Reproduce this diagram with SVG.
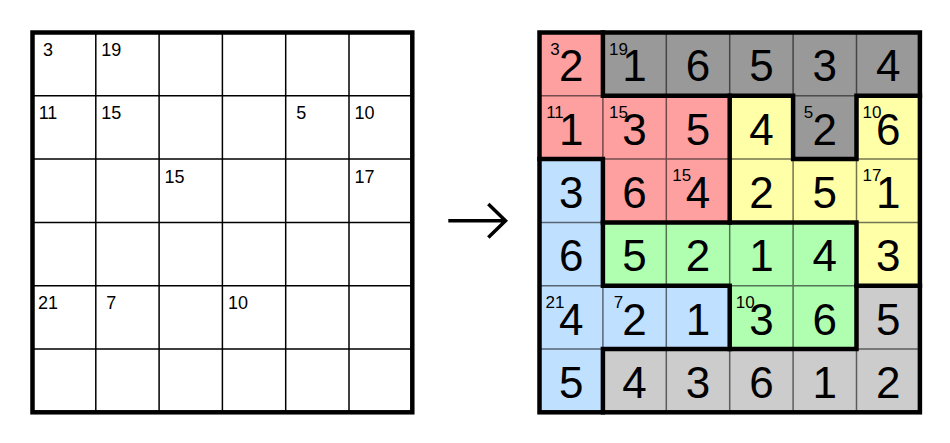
<svg xmlns="http://www.w3.org/2000/svg" width="950" height="443" viewBox="0 0 950 443">
<style>
.bg{fill:#fff}
.thinL{stroke:#000;stroke-width:1.5;fill:none}
.thinR{stroke:#000;stroke-opacity:0.55;stroke-width:1.5;fill:none}
.thick{stroke:#000;stroke-width:4.5;fill:none;stroke-linecap:square;stroke-linejoin:miter}
.clueL{font-family:"Liberation Sans",Arial,sans-serif;font-size:18px;text-anchor:middle;fill:#000}
.clueR{font-family:"Liberation Sans",Arial,sans-serif;font-size:17px;text-anchor:middle;fill:#000}
.big{font-family:"Liberation Sans",Arial,sans-serif;font-size:44px;text-anchor:middle;fill:#000}
.r{fill:#ffa0a0}.dg{fill:#999999}.y{fill:#ffffa8}.b{fill:#c0e0ff}.g{fill:#b0ffb0}.lg{fill:#cccccc}
</style>
<rect width="950" height="443" fill="#fff"/>
<g id="puzzle">
<rect x="32.5" y="32.5" width="379.8" height="379.8" class="bg"/>
<path class="thinL" d="M95.8,32.5V412.3M159.1,32.5V412.3M222.4,32.5V412.3M285.7,32.5V412.3M349,32.5V412.3M32.5,95.8H412.3M32.5,159.1H412.3M32.5,222.4H412.3M32.5,285.7H412.3M32.5,349H412.3"/>
<rect x="32.5" y="32.5" width="379.8" height="379.8" class="thick"/>
<g class="clueL">
<text x="48" y="56">3</text>
<text x="111.3" y="56">19</text>
<text x="48" y="119.3">11</text>
<text x="111.3" y="119.3">15</text>
<text x="301.2" y="119.3">5</text>
<text x="364.5" y="119.3">10</text>
<text x="174.6" y="182.6">15</text>
<text x="364.5" y="182.6">17</text>
<text x="48" y="309.2">21</text>
<text x="111.3" y="309.2">7</text>
<text x="237.9" y="309.2">10</text>
</g>
</g>
<g id="arrow">
<path d="M448.3,220.7H504M488.3,204L505.5,220.7L488.3,237.4" stroke="#000" stroke-width="3.5" fill="none"/>
</g>
<g id="solution">
<g id="fills">
<rect class="r" x="539.5" y="32.5" width="63.4" height="63.3"/>
<rect class="dg" x="602.9" y="32.5" width="317" height="63.3"/>
<rect class="r" x="539.5" y="95.8" width="190.2" height="63.3"/>
<rect class="y" x="729.7" y="95.8" width="63.4" height="63.3"/>
<rect class="dg" x="793.1" y="95.8" width="63.4" height="63.3"/>
<rect class="y" x="856.5" y="95.8" width="63.4" height="63.3"/>
<rect class="b" x="539.5" y="159.1" width="63.4" height="253.2"/>
<rect class="r" x="602.9" y="159.1" width="126.8" height="63.3"/>
<rect class="y" x="729.7" y="159.1" width="190.2" height="63.3"/>
<rect class="g" x="602.9" y="222.4" width="253.6" height="63.3"/>
<rect class="y" x="856.5" y="222.4" width="63.4" height="63.3"/>
<rect class="b" x="602.9" y="285.7" width="126.8" height="63.3"/>
<rect class="g" x="729.7" y="285.7" width="126.8" height="63.3"/>
<rect class="lg" x="856.5" y="285.7" width="63.4" height="63.3"/>
<rect class="lg" x="602.9" y="349" width="317" height="63.3"/>
</g>
<path class="thinR" d="M602.9,32.5V412.3M666.3,32.5V412.3M729.7,32.5V412.3M793.1,32.5V412.3M856.5,32.5V412.3M539.5,95.8H919.9M539.5,159.1H919.9M539.5,222.4H919.9M539.5,285.7H919.9M539.5,349H919.9"/>
<g id="regions" class="thick">
<path d="M602.9,32.5V95.8H793.1V159.1H856.5V95.8H919.9"/>
<path d="M729.7,95.8V222.4"/>
<path d="M602.9,412.3V349H856.5V222.4H602.9"/>
<path d="M539.5,159.1H602.9V285.7H729.7V349"/>
<path d="M856.5,285.7H919.9"/>
<rect x="539.5" y="32.5" width="380.4" height="379.8"/>
</g>
<g class="clueR">
<text x="555" y="54.8">3</text>
<text x="618.4" y="54.8">19</text>
<text x="555" y="118.1">11</text>
<text x="618.4" y="118.1">15</text>
<text x="808.6" y="118.1">5</text>
<text x="872" y="118.1">10</text>
<text x="681.8" y="181.4">15</text>
<text x="872" y="181.4">17</text>
<text x="555" y="308">21</text>
<text x="618.4" y="308">7</text>
<text x="745.2" y="308">10</text>
</g>
<g class="big">
<text x="571.2" y="81.3">2</text><text x="634.6" y="81.3">1</text><text x="698" y="81.3">6</text><text x="761.4" y="81.3">5</text><text x="824.8" y="81.3">3</text><text x="888.2" y="81.3">4</text>
<text x="571.2" y="144.6">1</text><text x="634.6" y="144.6">3</text><text x="698" y="144.6">5</text><text x="761.4" y="144.6">4</text><text x="824.8" y="144.6">2</text><text x="888.2" y="144.6">6</text>
<text x="571.2" y="207.9">3</text><text x="634.6" y="207.9">6</text><text x="698" y="207.9">4</text><text x="761.4" y="207.9">2</text><text x="824.8" y="207.9">5</text><text x="888.2" y="207.9">1</text>
<text x="571.2" y="271.2">6</text><text x="634.6" y="271.2">5</text><text x="698" y="271.2">2</text><text x="761.4" y="271.2">1</text><text x="824.8" y="271.2">4</text><text x="888.2" y="271.2">3</text>
<text x="571.2" y="334.5">4</text><text x="634.6" y="334.5">2</text><text x="698" y="334.5">1</text><text x="761.4" y="334.5">3</text><text x="824.8" y="334.5">6</text><text x="888.2" y="334.5">5</text>
<text x="571.2" y="397.8">5</text><text x="634.6" y="397.8">4</text><text x="698" y="397.8">3</text><text x="761.4" y="397.8">6</text><text x="824.8" y="397.8">1</text><text x="888.2" y="397.8">2</text>
</g>
</g>
</svg>
